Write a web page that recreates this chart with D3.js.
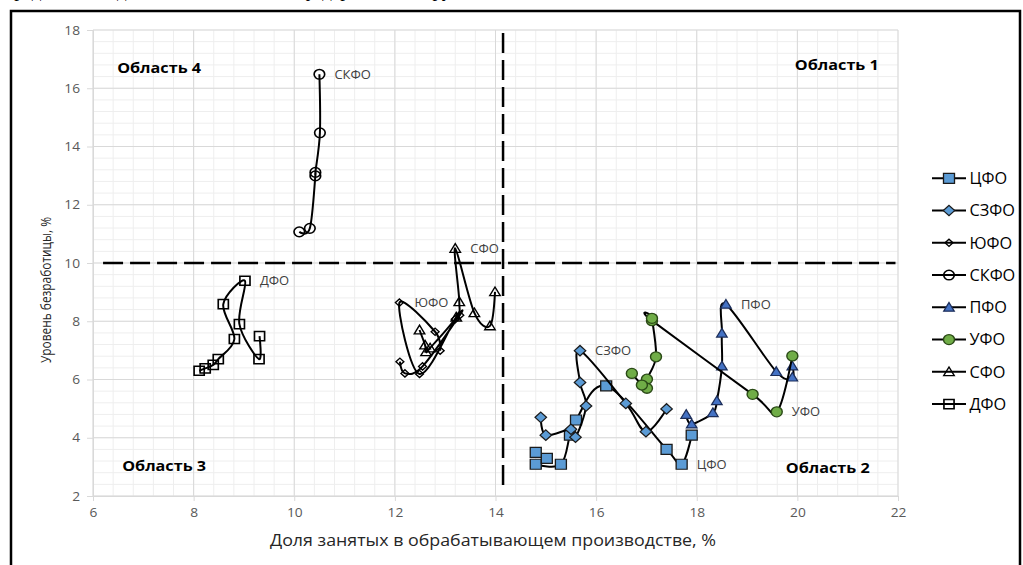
<!DOCTYPE html>
<html>
<head>
<meta charset="utf-8">
<script src="https://cdn.jsdelivr.net/npm/d3@7"></script>
<style>
  html, body { margin: 0; padding: 0; background: #fff; }
  svg { display: block; }
</style>
</head>
<body>
<svg id="chart" width="1023" height="565"></svg>
<script>
// Federal districts of Russia: share of employment in manufacturing (x, %)
// versus unemployment rate (y, %), one trajectory per district.
const districts = ["ЦФО", "СЗФО", "ЮФО", "СКФО", "ПФО", "УФО", "СФО", "ДФО"];

const cfoX  = [17.90, 17.70, 17.40, 16.20, 15.60, 15.48, 15.30, 14.80, 15.02, 14.80];
const cfoY  = [4.09, 3.09, 3.60, 5.78, 4.61, 4.09, 3.09, 3.09, 3.29, 3.50];
const szfoX = [17.40, 16.99, 16.59, 15.68, 15.68, 15.80, 15.59, 15.50, 15.00, 14.90];
const szfoY = [4.99, 4.21, 5.18, 6.99, 5.90, 5.09, 4.02, 4.29, 4.09, 4.70];
const yufoX = [12.90, 12.80, 12.09, 12.49, 13.20, 13.29, 12.55, 12.20, 12.10];
const yufoY = [6.99, 7.64, 8.64, 6.19, 8.07, 8.21, 6.45, 6.21, 6.61];
const skfoX = [10.10, 10.31, 10.42, 10.42, 10.51, 10.50];
const skfoY = [11.07, 11.19, 12.99, 13.11, 14.47, 16.48];
const pfoX  = [19.90, 19.90, 19.58, 18.58, 18.50, 18.50, 18.40, 18.32, 17.90, 17.79];
const pfoY  = [6.46, 6.08, 6.27, 8.58, 7.59, 6.46, 5.27, 4.86, 4.47, 4.80];
const ufoX  = [19.90, 19.59, 19.11, 17.11, 17.11, 17.19, 17.01, 17.01, 16.91, 16.71];
const ufoY  = [6.81, 4.89, 5.49, 8.02, 8.10, 6.78, 6.01, 5.70, 5.81, 6.21];
const sfoX  = [13.99, 13.89, 13.58, 13.20, 13.28, 13.22, 12.70, 12.62, 12.60, 12.49];
const sfoY  = [9.01, 7.84, 8.29, 10.50, 8.67, 8.14, 7.08, 6.95, 7.18, 7.70];
const dfoX  = [9.31, 9.30, 8.91, 9.02, 8.59, 8.81, 8.49, 8.39, 8.23, 8.11];
const dfoY  = [7.49, 6.70, 7.90, 9.39, 8.59, 7.39, 6.70, 6.50, 6.38, 6.30];

// index of the point that carries the district name
const labelIndex = [1, 3, 2, 5, 3, 1, 3, 3];

const xTicks = [6, 8, 10, 12, 14, 16, 18, 20, 22];
const yTicks = [2, 4, 6, 8, 10, 12, 14, 16, 18];

// quadrant thresholds
const thresholdX = 14.15;
const thresholdY = 10;

const quadrantNames = ["Область 1", "Область 2", "Область 3", "Область 4"];

const xTitle = "Доля занятых в обрабатывающем производстве, %";
const yTitle = "Уровень безработицы, %";

// ---------------------------------------------------------------------------
const seriesX = [cfoX, szfoX, yufoX, skfoX, pfoX, ufoX, sfoX, dfoX];
const seriesY = [cfoY, szfoY, yufoY, skfoY, pfoY, ufoY, sfoY, dfoY];

const markerStyles = [
  { shape: "square",   s: 5.0, fill: "#5b9bd5", stroke: "#1b1b1b", sw: 1.2 },
  { shape: "diamond",  s: 5.2, fill: "#5b9bd5", stroke: "#1b1b1b", sw: 1.2 },
  { shape: "diamond",  s: 3.6, fill: "none",    stroke: "#000",    sw: 1.3 },
  { shape: "circle",   s: 4.8, fill: "none",    stroke: "#000",    sw: 1.5 },
  { shape: "triangle", s: 4.8, fill: "#4472c4", stroke: "#1c2e5a", sw: 1.2 },
  { shape: "circle",   s: 5.0, fill: "#70ad47", stroke: "#2b4a17", sw: 1.3 },
  { shape: "triangle", s: 4.8, fill: "none",    stroke: "#000",    sw: 1.3 },
  { shape: "square",   s: 4.6, fill: "none",    stroke: "#000",    sw: 1.5 }
];

const FONT = "'Open Sans', 'Noto Sans', sans-serif";
const svg = d3.select("#chart");

const plot = { left: 93, right: 898, top: 30, bottom: 496 };
const x = d3.scaleLinear().domain([6, 22]).range([plot.left, plot.right]);
const y = d3.scaleLinear().domain([2, 18]).range([plot.bottom, plot.top]);

// text helper: horizontal stretch keeps the wide lettering of the chart
function label(parent, px, py, str, o) {
  return parent.append("text")
    .attr("transform", `translate(${px},${py}) rotate(${o.rot || 0}) scale(${o.sx || 1},1)`)
    .attr("text-anchor", o.anchor || "start")
    .attr("dominant-baseline", "central")
    .style("font-family", FONT)
    .style("font-size", o.size + "px")
    .style("font-weight", o.weight || "normal")
    .attr("fill", o.color || "#404040")
    .text(str);
}

// line of the surrounding document, cut by the top edge
svg.append("text")
  .attr("x", 4).attr("y", -3)
  .style("font-family", "'Liberation Serif', serif")
  .style("font-size", "19px")
  .attr("fill", "#000")
  .text("представлена динамика показателей федеральных округов");

// frame around the figure
svg.append("path")
  .attr("d", "M11,565 L11,11 L1020,11 L1020,565")
  .attr("fill", "none")
  .attr("stroke", "#000")
  .attr("stroke-width", 2.5);

// gridlines: minor every 0.4, major every 2
const minorX = d3.range(0, 41).map(i => 6 + i * 0.4);
const minorY = d3.range(0, 41).map(i => 2 + i * 0.4);
const grid = svg.append("g");
grid.selectAll("line.mx").data(minorX).join("line")
  .attr("x1", d => x(d)).attr("x2", d => x(d))
  .attr("y1", plot.top).attr("y2", plot.bottom)
  .attr("stroke", "#eeeeee").attr("stroke-width", 1);
grid.selectAll("line.my").data(minorY).join("line")
  .attr("x1", plot.left).attr("x2", plot.right)
  .attr("y1", d => y(d)).attr("y2", d => y(d))
  .attr("stroke", "#eeeeee").attr("stroke-width", 1);
grid.selectAll("line.gx").data(xTicks).join("line")
  .attr("x1", d => x(d)).attr("x2", d => x(d))
  .attr("y1", plot.top).attr("y2", plot.bottom)
  .attr("stroke", "#d9d9d9").attr("stroke-width", 1);
grid.selectAll("line.gy").data(yTicks).join("line")
  .attr("x1", plot.left).attr("x2", plot.right)
  .attr("y1", d => y(d)).attr("y2", d => y(d))
  .attr("stroke", "#d9d9d9").attr("stroke-width", 1);

// axes
const tickSx = 1.1;
const yAxis = svg.append("g")
  .attr("transform", `translate(${plot.left},0)`)
  .call(d3.axisLeft(y).tickValues(yTicks).tickSize(6).tickPadding(7).tickFormat(d3.format("d")));
const xAxis = svg.append("g")
  .attr("transform", `translate(0,${plot.bottom})`)
  .call(d3.axisBottom(x).tickValues(xTicks).tickSize(5).tickPadding(7).tickFormat(d3.format("d")));
[yAxis, xAxis].forEach(a => {
  a.select(".domain").attr("stroke", "#d9d9d9");
  a.selectAll(".tick line").attr("stroke", "#d9d9d9");
  a.selectAll(".tick text")
    .style("font-family", FONT).style("font-size", "12.5px")
    .attr("fill", "#595959");
});
yAxis.selectAll(".tick text")
  .attr("x", -13 / tickSx)
  .attr("transform", `scale(${tickSx},1)`);
xAxis.selectAll(".tick text").attr("transform", `scale(${tickSx},1)`);

// axis titles
label(svg, 493, 540, xTitle, { size: 15.5, anchor: "middle", sx: 1.15, color: "#262626" });
label(svg, 46, 290, yTitle, { size: 14.5, anchor: "middle", rot: -90, sx: 0.82, color: "#262626" });

// quadrant borders
const dash = svg.append("g")
  .attr("stroke", "#000").attr("stroke-width", 2.5)
  .attr("stroke-dasharray", "20,7").attr("fill", "none");
dash.append("line")
  .attr("x1", x(thresholdX)).attr("x2", x(thresholdX))
  .attr("y1", y(17.9)).attr("y2", y(2.35));
dash.append("line")
  .attr("x1", x(6.2)).attr("x2", x(21.95))
  .attr("y1", y(thresholdY)).attr("y2", y(thresholdY));

// quadrant names (anchored in data units)
const quadrantPos = [[19.95, 16.8], [19.77, 2.96], [6.58, 3.06], [6.48, 16.7]];
quadrantNames.forEach((q, i) => {
  label(svg, x(quadrantPos[i][0]), y(quadrantPos[i][1]), q,
    { size: 13.5, weight: "bold", sx: 1.2, color: "#000" });
});

// markers
function drawMarker(parent, px, py, st) {
  const g = parent.append("g").attr("transform", `translate(${px},${py}) scale(1.1,1)`);
  const s = st.s;
  let el;
  if (st.shape === "circle") {
    el = g.append("circle").attr("r", s);
  } else {
    let d;
    if (st.shape === "square") d = `M${-s},${-s}H${s}V${s}H${-s}Z`;
    else if (st.shape === "diamond") d = `M0,${-s}L${s},0L0,${s}L${-s},0Z`;
    else d = `M0,${-s}L${s * 1.0},${s * 0.8}L${-s * 1.0},${s * 0.8}Z`;
    el = g.append("path").attr("d", d);
  }
  el.attr("fill", st.fill).attr("stroke", st.stroke)
    .attr("stroke-width", st.sw).attr("stroke-linejoin", "miter");
}

const line = d3.line()
  .x(d => x(d[0])).y(d => y(d[1]))
  .curve(d3.curveCardinal.tension(0));

const seriesLayer = svg.append("g");
districts.forEach((name, i) => {
  const pts = seriesX[i].map((v, k) => [v, seriesY[i][k]]);
  const g = seriesLayer.append("g");
  g.append("path")
    .attr("d", line(pts))
    .attr("fill", "none")
    .attr("stroke", "#000")
    .attr("stroke-width", 2)
    .attr("stroke-linejoin", "round");
  pts.forEach(p => drawMarker(g, x(p[0]), y(p[1]), markerStyles[i]));
});

// district names next to one point of each trajectory
districts.forEach((name, i) => {
  const k = labelIndex[i];
  label(svg, x(seriesX[i][k]) + 15, y(seriesY[i][k]), name,
    { size: 12, sx: 1.08, color: "#404040" });
});

// legend
const legend = svg.append("g");
districts.forEach((name, i) => {
  const cy = 178.3 + i * 32.25;
  legend.append("line")
    .attr("x1", 932).attr("x2", 966).attr("y1", cy).attr("y2", cy)
    .attr("stroke", "#000").attr("stroke-width", 2);
  drawMarker(legend, 949, cy, markerStyles[i]);
  label(legend, 969.5, cy, name, { size: 15.5, sx: 1.05, color: "#000" });
});
</script>
</body>
</html>
